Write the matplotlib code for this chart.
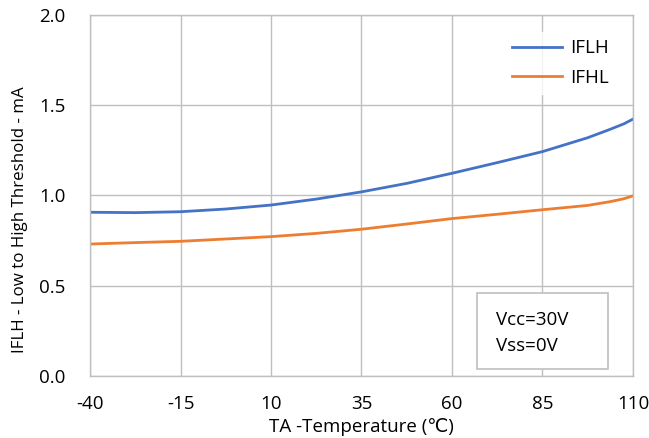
import matplotlib.pyplot as plt
from matplotlib.patches import Rectangle

plt.rcParams['font.family'] = ['Open Sans', 'DejaVu Sans']
plt.rcParams['axes.unicode_minus'] = False

# 温度点 (°C)
temps = [-40, -27.5, -15, -2.5, 10, 22.5, 35, 47.5, 60, 72.5, 85, 97.5, 103.75, 107.5, 110]
# 低到高阈值电流 IFLH (mA)
iflh = [0.907, 0.905, 0.910, 0.925, 0.947, 0.980, 1.020, 1.067, 1.123, 1.182, 1.243, 1.320, 1.367, 1.397, 1.423]
# 高到低阈值电流 IFHL (mA)
ifhl = [0.731, 0.739, 0.746, 0.759, 0.772, 0.790, 0.813, 0.842, 0.872, 0.896, 0.921, 0.945, 0.966, 0.982, 0.998]

x_ticks = [-40, -15, 10, 35, 60, 85, 110]
y_ticks = [0.0, 0.5, 1.0, 1.5, 2.0]

fig = plt.figure(figsize=(6.49, 4.38), dpi=100)
ax = fig.add_axes([0.1387, 0.1416, 0.8366, 0.8242])

ax.plot(temps, iflh, color='#4472C4', linewidth=2.0, label='IFLH')
ax.plot(temps, ifhl, color='#ED7D31', linewidth=2.0, label='IFHL')

ax.set_xlim(-40, 110)
ax.set_ylim(0, 2.0)
ax.set_xticks(x_ticks)
ax.set_yticks(y_ticks)
ax.set_yticklabels([f'{v:.1f}' for v in y_ticks])
ax.tick_params(length=0, labelsize=13.5, colors='black')
ax.tick_params(axis='x', pad=13.5)
ax.tick_params(axis='y', pad=17.5)
ax.grid(True, color='#BFBFBF', linewidth=1.0)
ax.set_axisbelow(True)
for s in ax.spines.values():
    s.set_color('#BFBFBF')
    s.set_linewidth(1.0)

ax.set_xlabel('TA -Temperature (℃)', fontsize=13.5, labelpad=4)
ax.set_ylabel('IFLH - Low to High Threshold - mA', fontsize=12.2)
ax.yaxis.set_label_coords(-0.115, 0.432)

leg = ax.legend(loc='upper right', frameon=True, fontsize=13.5, handlelength=2.7,
                handletextpad=0.4, borderaxespad=0.9, labelspacing=0.6,
                fancybox=False)
leg.get_frame().set_facecolor('white')
leg.get_frame().set_edgecolor('white')

# 条件说明框
ax.add_patch(Rectangle((67.0, 0.04), 36.0, 0.42, facecolor='white',
                       edgecolor='#BFBFBF', linewidth=1.2, zorder=3))
ax.text(72.2, 0.237, 'Vcc=30V\nVss=0V', fontsize=13.5, va='center', ha='left',
        linespacing=1.6, zorder=4)

fig.savefig('out.png', dpi=100)
